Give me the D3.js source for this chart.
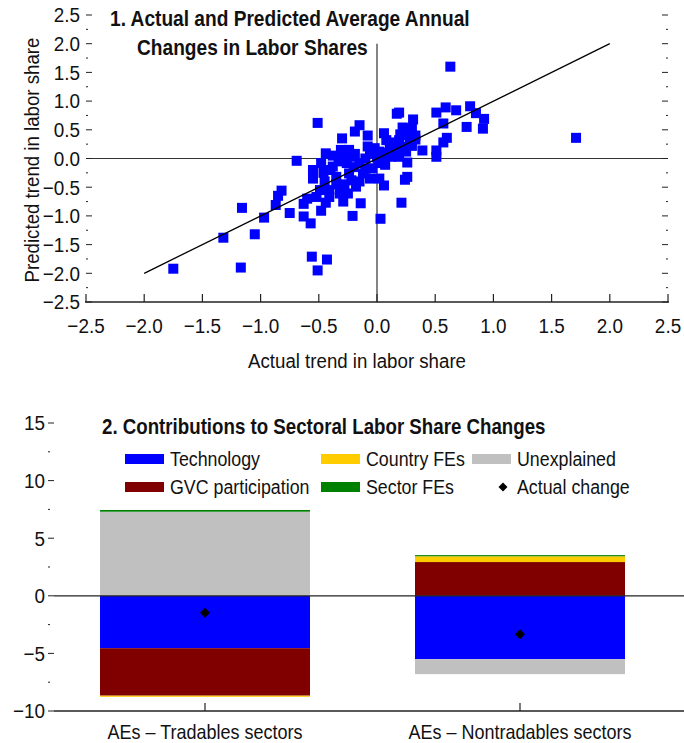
<!DOCTYPE html>
<html><head><meta charset="utf-8">
<script src="https://cdn.jsdelivr.net/npm/d3@7"></script>
<style>
body{margin:0;background:#fff;}
text{font-family:"Liberation Sans",Arial,sans-serif;fill:#111;}
</style></head><body>
<svg id="c" width="684" height="743"></svg>
<script>
// ---------- Panel 1 data ----------
const actualTrend = [0.63,1.71,0.59,0.68,0.80,0.85,0.92,0.91,0.77,0.57,0.60,0.57,0.51,0.51,0.51,0.39,0.17,0.19,0.31,0.22,0.30,0.06,0.25,0.29,0.19,0.08,0.11,0.28,0.17,0.18,0.12,0.19,0.15,0.02,-0.06,-0.08,-0.08,-0.15,-0.19,-0.30,-0.51,-0.31,-0.24,-0.19,-0.44,-0.69,0.26,0.07,0.26,0.24,0.06,0.21,0.03,-0.14,-0.21,-0.48,-0.57,-0.63,-0.63,-0.75,-0.82,-0.85,-0.87,-1.16,-0.97,-1.05,-1.32,-1.75,-1.17,-0.56,-0.43,-0.51,-0.55,-0.55,-0.48,-0.41,-0.35,-0.24,-0.15,-0.18,-0.32,-0.29,-0.25,-0.41,-0.52,-0.49,0.02,-0.06,-0.04,0.01,-0.15,-0.12,-0.26,-0.38,-0.40,-0.33,-0.20,-0.10,0.05,0.10,0.22,0.25,0.33,0.30,-0.28,-0.35,-0.45,-0.46,-0.22,-0.10,0.00,-0.02,0.14,0.33,-0.38,-0.30,-0.23,-0.60,-0.44,0.20,0.27,0.12];
const predictedTrend = [1.60,0.36,0.89,0.84,0.91,0.79,0.69,0.52,0.55,0.61,0.36,0.28,0.14,0.03,0.80,0.14,0.78,0.80,0.68,0.54,0.53,0.44,0.41,0.35,0.32,0.32,0.21,0.26,0.15,0.09,0.03,0.03,0.15,0.12,0.09,0.21,0.40,0.58,0.47,0.35,0.62,0.15,0.15,0.08,0.09,-0.04,-0.07,-0.11,-0.32,-0.37,-0.47,-0.77,-1.05,-0.78,-1.00,-0.91,-1.13,-1.01,-0.79,-0.95,-0.56,-0.65,-0.81,-0.86,-1.03,-1.32,-1.38,-1.92,-1.90,-1.71,-1.76,-1.95,-0.20,-0.35,-0.08,-0.55,-0.32,-0.26,-0.40,-0.49,-0.61,-0.75,-0.61,-0.67,-0.67,-0.55,-0.35,-0.35,-0.17,-0.08,-0.08,-0.26,-0.08,-0.14,-0.20,-0.05,-0.15,0.00,0.05,0.10,0.20,0.12,0.40,0.22,-0.45,-0.45,-0.40,-0.25,-0.38,-0.18,0.02,0.18,0.28,0.33,0.05,0.04,0.03,-0.70,-0.77,0.42,0.45,0.20];
const fitLine = [[-2,-2],[2,2]];
const scatterTicks = [-2.5,-2.0,-1.5,-1.0,-0.5,0.0,0.5,1.0,1.5,2.0,2.5];
const scatterMinor = [-2.25,-1.75,-1.25,-0.75,-0.25,0.25,0.75,1.25,1.75,2.25];

// ---------- Panel 2 data ----------
const sectors = ["AEs \u2013 Tradables sectors","AEs \u2013 Nontradables sectors"];
const components = ["Technology","GVC participation","Country FEs","Sector FEs","Unexplained"];
const stackOrder = ["Technology","GVC participation","Country FEs","Unexplained","Sector FEs"];
const technology = [-4.55,-5.5];
const gvcParticipation = [-4.12,2.93];
const countryFEs = [-0.1,0.5];
const sectorFEs = [0.15,0.1];
const unexplained = [7.3,-1.3];
const actualChange = [-1.47,-3.34];
const barTicks = [-10,-5,0,5,10,15];
const barMinor = [-7.5,-2.5,2.5,7.5,12.5];
const compColors = {"Technology":"#0000ff","GVC participation":"#800000","Country FEs":"#ffcc00","Sector FEs":"#008000","Unexplained":"#c0c0c0"};

const svg = d3.select("#c");
const fmt = v => d3.format(".1f")(v).replace("-","\u2212");

// condensed-looking text helper
function txt(g, x, y, s, o={}) {
  const size=o.size||20, sx=o.sx||0.89, rot=o.rot||0;
  return g.append("text")
    .attr("transform",`translate(${x},${y}) rotate(${rot}) scale(${sx},1)`)
    .attr("font-size",size).attr("font-weight",o.weight||"normal")
    .attr("text-anchor",o.anchor||"start").attr("dy",o.dy==null?"0.35em":o.dy).text(s);
}

// ================= Panel 1 =================
const x1 = d3.scaleLinear().domain([-2.5,2.5]).range([86,668]);
const y1 = d3.scaleLinear().domain([-2.5,2.5]).range([302,15]);
const p1 = svg.append("g");

// zero lines
p1.append("line").attr("x1",x1(-2.5)).attr("x2",x1(2.5)).attr("y1",y1(0)).attr("y2",y1(0)).attr("stroke","#333").attr("stroke-width",1.2);
p1.append("line").attr("x1",x1(0)).attr("x2",x1(0)).attr("y1",y1(2)).attr("y2",y1(-2.5)).attr("stroke","#333").attr("stroke-width",1.2);

// bottom axis
p1.append("line").attr("x1",x1(-2.5)-1).attr("x2",x1(2.5)+1).attr("y1",y1(-2.5)).attr("y2",y1(-2.5)).attr("stroke","#222").attr("stroke-width",1.6);
p1.append("g").selectAll("line").data(scatterTicks).join("line")
  .attr("x1",d=>x1(d)).attr("x2",d=>x1(d)).attr("y1",y1(-2.5)).attr("y2",y1(-2.5)-8).attr("stroke","#222").attr("stroke-width",1.2);
scatterTicks.forEach(t=>txt(p1,x1(t),y1(-2.5)+24,fmt(t),{size:21,sx:0.9,anchor:"middle"}));

// left ticks
scatterTicks.forEach(t=>txt(p1,80,y1(t),fmt(t),{size:21,sx:0.9,anchor:"end"}));
p1.append("g").selectAll("line").data(scatterTicks).join("line")
  .attr("x1",86).attr("x2",92).attr("y1",d=>y1(d)).attr("y2",d=>y1(d)).attr("stroke","#222");
p1.append("g").selectAll("line").data(scatterMinor).join("line")
  .attr("x1",86).attr("x2",88).attr("y1",d=>y1(d)).attr("y2",d=>y1(d)).attr("stroke","#222");
// right ticks
p1.append("g").selectAll("line").data(scatterTicks).join("line")
  .attr("x1",662).attr("x2",668).attr("y1",d=>y1(d)).attr("y2",d=>y1(d)).attr("stroke","#222");
p1.append("g").selectAll("line").data(scatterMinor).join("line")
  .attr("x1",666).attr("x2",668).attr("y1",d=>y1(d)).attr("y2",d=>y1(d)).attr("stroke","#222");

// points
const pts = actualTrend.map((a,i)=>[a,predictedTrend[i]]);
p1.append("g").selectAll("rect").data(pts).join("rect")
  .attr("x",d=>x1(d[0])-5).attr("y",d=>y1(d[1])-5).attr("width",10).attr("height",10).attr("fill","#0000ff");

// fit line
p1.append("path").datum(fitLine).attr("d",d3.line().x(d=>x1(d[0])).y(d=>y1(d[1]))).attr("stroke","#000").attr("stroke-width",1.3).attr("fill","none");

// titles
txt(p1,110,18,"1. Actual and Predicted Average Annual",{size:22,weight:"bold",sx:0.87});
txt(p1,137,47,"Changes in Labor Shares",{size:22,weight:"bold",sx:0.87});
txt(p1,357,361,"Actual trend in labor share",{size:21,sx:0.89,anchor:"middle"});
txt(p1,32,160,"Predicted trend in labor share",{size:21,sx:0.89,anchor:"middle",rot:-90});

// ================= Panel 2 =================
const x2 = d3.scaleBand().domain(sectors).range([47.5,677.5]).paddingInner(1/3).paddingOuter(1/6);
const y2 = d3.scaleLinear().domain([-10,15]).range([711,423]);
const p2 = svg.append("g");

const rows = sectors.map((s,i)=>({sector:s,"Technology":technology[i],"GVC participation":gvcParticipation[i],"Country FEs":countryFEs[i],"Sector FEs":sectorFEs[i],"Unexplained":unexplained[i]}));
const stack = d3.stack().keys(stackOrder).offset(d3.stackOffsetDiverging)(rows);
p2.append("g").selectAll("g").data(stack).join("g").attr("fill",d=>compColors[d.key])
  .selectAll("rect").data(d=>d).join("rect")
  .attr("x",d=>x2(d.data.sector)).attr("width",x2.bandwidth())
  .attr("y",d=>y2(Math.max(d[0],d[1]))).attr("height",d=>Math.abs(y2(d[0])-y2(d[1])));

// zero line & bottom axis
p2.append("line").attr("x1",54).attr("x2",684).attr("y1",y2(0)).attr("y2",y2(0)).attr("stroke","#222").attr("stroke-width",1.2);
p2.append("line").attr("x1",54).attr("x2",684).attr("y1",y2(-10)).attr("y2",y2(-10)).attr("stroke","#222").attr("stroke-width",1.6);
p2.append("g").selectAll("line").data(sectors).join("line")
  .attr("x1",d=>x2(d)+x2.bandwidth()/2).attr("x2",d=>x2(d)+x2.bandwidth()/2).attr("y1",y2(-10)).attr("y2",y2(-10)-8).attr("stroke","#222").attr("stroke-width",1.2);
sectors.forEach(s=>txt(p2,x2(s)+x2.bandwidth()/2,732,s,{size:20,sx:0.9,anchor:"middle"}));

// y ticks
barTicks.forEach(t=>txt(p2,45,y2(t),String(t).replace("-","\u2212"),{size:21,sx:0.9,anchor:"end"}));
p2.append("g").selectAll("line").data(barTicks).join("line")
  .attr("x1",48).attr("x2",54).attr("y1",d=>y2(d)).attr("y2",d=>y2(d)).attr("stroke","#222");
p2.append("g").selectAll("line").data(barMinor).join("line")
  .attr("x1",48).attr("x2",50).attr("y1",d=>y2(d)).attr("y2",d=>y2(d)).attr("stroke","#222");

// actual change diamonds
p2.append("g").selectAll("path").data(actualChange).join("path")
  .attr("transform",(d,i)=>`translate(${x2(sectors[i])+x2.bandwidth()/2},${y2(d)}) rotate(45)`)
  .attr("d",d3.symbol().type(d3.symbolSquare).size(50)).attr("fill","#000");

// title
txt(p2,102,426,"2. Contributions to Sectoral Labor Share Changes",{size:22,weight:"bold",sx:0.85});

// legend
const legendItems = [
  {k:"Technology",x:125,y:459},{k:"GVC participation",x:125,y:487},
  {k:"Country FEs",x:321,y:459},{k:"Sector FEs",x:321,y:487},
  {k:"Unexplained",x:472,y:459},{k:"Actual change",x:472,y:487}
];
const lg = p2.append("g");
legendItems.forEach(it=>{
  if(it.k==="Actual change"){
    lg.append("path").attr("transform",`translate(${it.x+31},${it.y}) rotate(45)`).attr("d",d3.symbol().type(d3.symbolSquare).size(40)).attr("fill","#000");
  } else {
    lg.append("rect").attr("x",it.x).attr("y",it.y-5).attr("width",39).attr("height",10).attr("fill",compColors[it.k]);
  }
  txt(lg,it.x+45,it.y,it.k,{size:20,sx:0.89});
});
</script></body></html>
